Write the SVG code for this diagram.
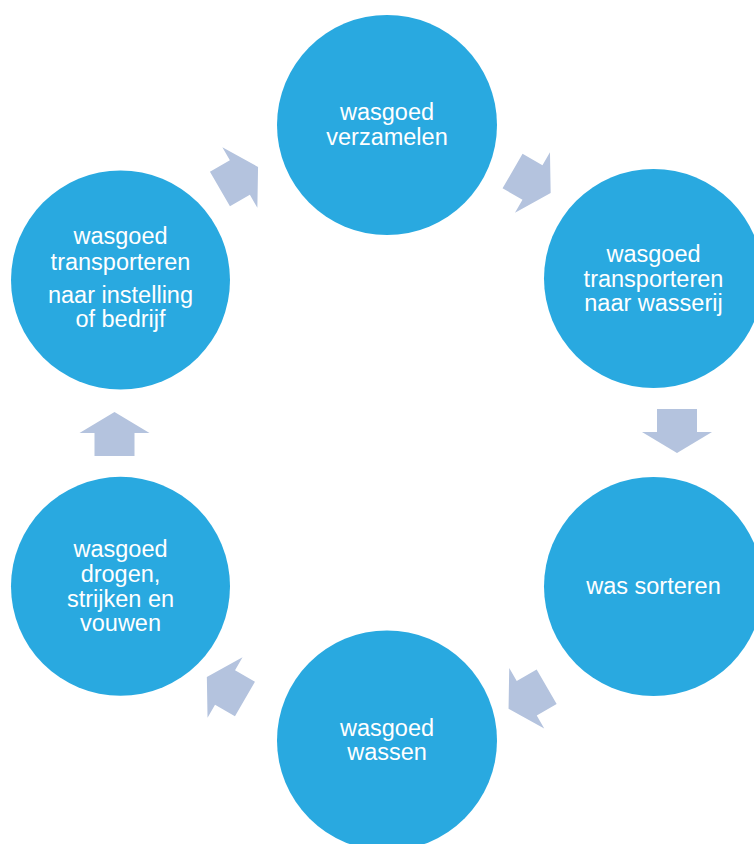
<svg xmlns="http://www.w3.org/2000/svg" xmlns:xlink="http://www.w3.org/1999/xlink" width="754" height="844" viewBox="0 0 754 844">
<style>
.c{fill:#29A9E0}
.t{fill:#ffffff;font-family:"Liberation Sans",Arial,sans-serif;font-size:23.5px;text-anchor:middle}
.a{fill:#B4C3DE}
</style>
<defs>
<path id="arr" d="M-22,-20 L1,-20 L1,-35 L22,0 L1,35 L1,20 L-22,20 Z"/>
</defs>
<rect width="754" height="844" fill="#ffffff"/>
<g id="connectors" class="a">
<use xlink:href="#arr" href="#arr" transform="translate(239,178) rotate(-30)"/>
<use xlink:href="#arr" href="#arr" transform="translate(531.6,182) rotate(30)"/>
<use xlink:href="#arr" href="#arr" transform="translate(677,431) rotate(90)"/>
<use xlink:href="#arr" href="#arr" transform="translate(527.6,697.8) rotate(150)"/>
<use xlink:href="#arr" href="#arr" transform="translate(225.9,688) rotate(210)"/>
<use xlink:href="#arr" href="#arr" transform="translate(114.5,434) rotate(-90)"/>
</g>
<g id="n1">
<circle class="c" cx="387" cy="125" r="110"/>
<text class="t" x="387" y="120">wasgoed</text>
<text class="t" x="387" y="145">verzamelen</text>
</g>
<g id="n2">
<circle class="c" cx="653.5" cy="278.5" r="109.5"/>
<text class="t" x="653.5" y="262">wasgoed</text>
<text class="t" x="653.5" y="287">transporteren</text>
<text class="t" x="653.5" y="311">naar wasserij</text>
</g>
<g id="n3">
<circle class="c" cx="653.5" cy="586.5" r="109.5"/>
<text class="t" x="653.5" y="594">was sorteren</text>
</g>
<g id="n4">
<circle class="c" cx="387" cy="740.5" r="110"/>
<text class="t" x="387" y="736">wasgoed</text>
<text class="t" x="387" y="760">wassen</text>
</g>
<g id="n5">
<circle class="c" cx="120.5" cy="586.3" r="109.5"/>
<text class="t" x="120.5" y="557">wasgoed</text>
<text class="t" x="120.5" y="582">drogen,</text>
<text class="t" x="120.5" y="607">strijken en</text>
<text class="t" x="120.5" y="631">vouwen</text>
</g>
<g id="n6">
<circle class="c" cx="120.5" cy="280" r="109.5"/>
<text class="t" x="120.5" y="244">wasgoed</text>
<text class="t" x="120.5" y="270">transporteren</text>
<text class="t" x="120.5" y="303">naar instelling</text>
<text class="t" x="120.5" y="327">of bedrijf</text>
</g>
</svg>
